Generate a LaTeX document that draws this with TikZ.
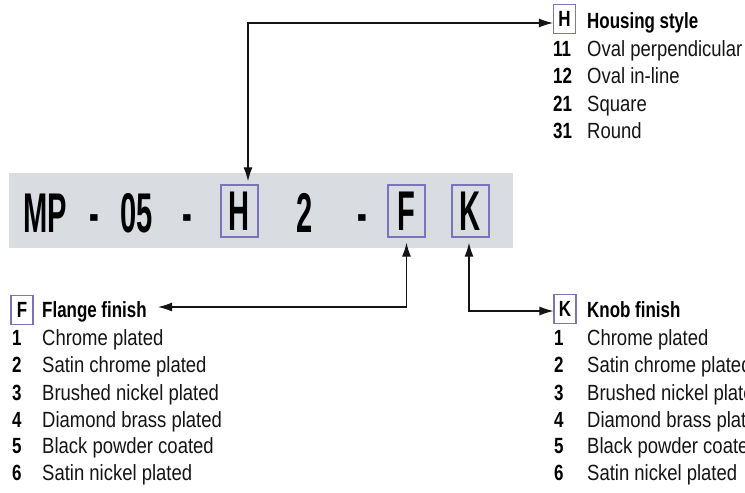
\documentclass[tikz,border=0pt]{standalone}
\usepackage{fontspec}
\setmainfont{Liberation Sans}
\newfontfamily\regf{Liberation Sans}[FakeStretch=0.84]
\newfontfamily\boldf{Liberation Sans}[FakeStretch=0.77]
\newfontfamily\bigf{Liberation Sans}[FakeStretch=0.52]
\usetikzlibrary{arrows.meta}
\definecolor{bandc}{RGB}{217,221,226}
\definecolor{boxc}{RGB}{124,116,186}
\definecolor{inkc}{RGB}{20,20,20}
\tikzset{
  bigtxt/.style={anchor=base,inner sep=0pt,text=black,font=\bigf\bfseries\fontsize{56}{60}\selectfont},
  bigbox/.style={draw=boxc,line width=1.4pt,minimum width=37pt,minimum height=52pt,inner sep=0pt,text=black,font=\bigf\bfseries\fontsize{56}{60}\selectfont},
  smallbox/.style={draw=boxc,line width=1.1pt,minimum width=22pt,minimum height=29pt,inner sep=0pt,text=black,font=\boldf\bfseries\fontsize{22}{26}\selectfont},
  head/.style={anchor=base west,inner sep=0pt,text=black,font=\boldf\bfseries\fontsize{22}{26}\selectfont},
  num/.style={anchor=base west,inner sep=0pt,text=black,font=\boldf\bfseries\fontsize{22}{26}\selectfont},
  item/.style={anchor=base west,inner sep=0pt,text=inkc,font=\regf\fontsize{22}{26}\selectfont},
  conn/.style={draw=inkc,line width=1.1pt,{Latex[length=14pt,width=9pt]}-{Latex[length=14pt,width=9pt]}}
}
\begin{document}
\begin{tikzpicture}[x=1pt,y=-1pt]
\clip (0,0) rectangle (745,493);
\fill[bandc] (9,173) rectangle (513,248);
% code line
\node[bigtxt] (mp) at (45,232) {MP};
\node[bigtxt] (d1) at (94,232) {-};
\node[bigtxt] (n05) at (137,232) {05};
\node[bigtxt] (d2) at (187,232) {-};
\node[bigbox] (Hb) at (239.5,211) {H};
\node[bigtxt] (n2) at (305,232) {2};
\node[bigtxt] (d3) at (362,232) {-};
\node[bigbox] (Fb) at (406.5,211) {F};
\node[bigbox] (Kb) at (470.5,211) {K};
% housing style
\node[smallbox] (Hs) at (564.5,19) {H};
\node[head] (Ht) at (587,28) {Housing style};
\node[num] (h1n) at (553,56) {11};
\node[item] (h1t) at (587,56) {Oval perpendicular};
\node[num] (h2n) at (553,83) {12};
\node[item] (h2t) at (587,83) {Oval in-line};
\node[num] (h3n) at (553,111) {21};
\node[item] (h3t) at (587,111) {Square};
\node[num] (h4n) at (553,138) {31};
\node[item] (h4t) at (587,138) {Round};
% flange finish
\node[smallbox] (Fs) at (22,310) {F};
\node[head] (Ft) at (42,317) {Flange finish};
\coordinate (fend) at (158,307);
\foreach \i/\t/\y in {1/Chrome plated/345,2/Satin chrome plated/372,3/Brushed nickel plated/400,4/Diamond brass plated/427,5/Black powder coated/453,6/Satin nickel plated/480}{
  \node[num] (fn\i) at (12,\y) {\i};
  \node[item] (ft\i) at (42,\y) {\t};
}
% knob finish
\node[smallbox] (Ks) at (565,309) {K};
\node[head] (Kt) at (587,317) {Knob finish};
\foreach \i/\t/\y in {1/Chrome plated/345,2/Satin chrome plated/372,3/Brushed nickel plated/400,4/Diamond brass plated/427,5/Black powder coated/453,6/Satin nickel plated/480}{
  \node[num] (kn\i) at (554,\y) {\i};
  \node[item] (kt\i) at (587,\y) {\t};
}
% connectors
\draw[conn] ([yshift=-4pt]Hs.west) -| ([xshift=8.5pt,yshift=3pt]Hb.north);
\draw[conn] (fend) -| ([yshift=-5pt]Fb.south);
\draw[conn] ([xshift=-1.5pt,yshift=-5pt]Kb.south) |- ([yshift=-2pt]Ks.west);
\end{tikzpicture}
\end{document}
